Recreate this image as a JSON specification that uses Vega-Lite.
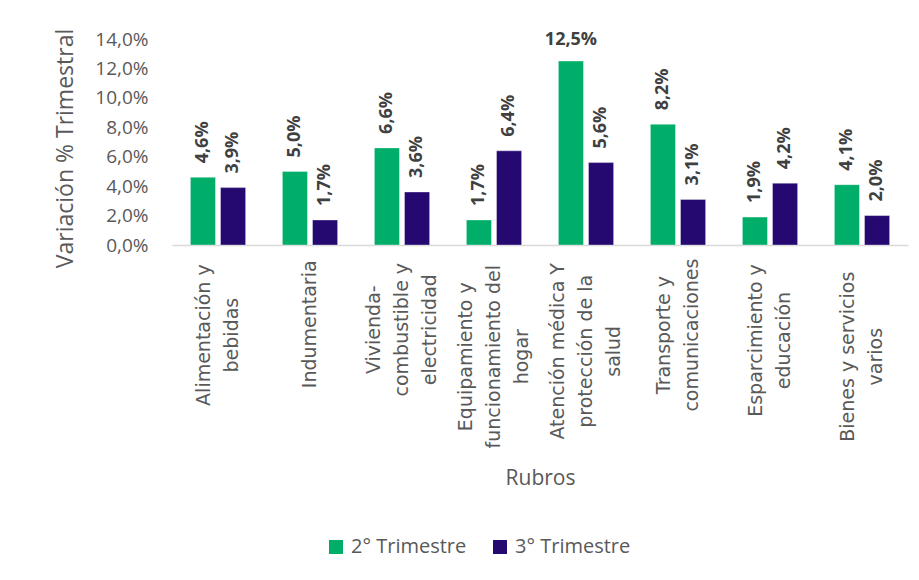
{
  "$schema": "https://vega.github.io/schema/vega-lite/v6.json",
  "width": 736,
  "height": 206,
  "autosize": {"type": "none"},
  "padding": {"left": 172, "top": 39, "right": 11, "bottom": 335},
  "background": "white",
  "config": {
    "view": {"stroke": null},
    "font": "Open Sans",
    "locale": {
      "number": {"decimal": ",", "thousands": ".", "grouping": [3], "currency": ["", " €"]}
    }
  },
  "data": {
    "values": [
      {"rubro": "Alimentación y|bebidas", "serie": "2° Trimestre", "v": 0.046},
      {"rubro": "Alimentación y|bebidas", "serie": "3° Trimestre", "v": 0.039},
      {"rubro": "Indumentaria", "serie": "2° Trimestre", "v": 0.050},
      {"rubro": "Indumentaria", "serie": "3° Trimestre", "v": 0.017},
      {"rubro": "Vivienda-|combustible y|electricidad", "serie": "2° Trimestre", "v": 0.066},
      {"rubro": "Vivienda-|combustible y|electricidad", "serie": "3° Trimestre", "v": 0.036},
      {"rubro": "Equipamiento y|funcionamiento del|hogar", "serie": "2° Trimestre", "v": 0.017},
      {"rubro": "Equipamiento y|funcionamiento del|hogar", "serie": "3° Trimestre", "v": 0.064},
      {"rubro": "Atención médica Y|protección de la|salud", "serie": "2° Trimestre", "v": 0.125},
      {"rubro": "Atención médica Y|protección de la|salud", "serie": "3° Trimestre", "v": 0.056},
      {"rubro": "Transporte y|comunicaciones", "serie": "2° Trimestre", "v": 0.082},
      {"rubro": "Transporte y|comunicaciones", "serie": "3° Trimestre", "v": 0.031},
      {"rubro": "Esparcimiento y|educación", "serie": "2° Trimestre", "v": 0.019},
      {"rubro": "Esparcimiento y|educación", "serie": "3° Trimestre", "v": 0.042},
      {"rubro": "Bienes y servicios|varios", "serie": "2° Trimestre", "v": 0.041},
      {"rubro": "Bienes y servicios|varios", "serie": "3° Trimestre", "v": 0.020}
    ]
  },
  "encoding": {
    "x": {
      "field": "rubro",
      "type": "nominal",
      "sort": null,
      "scale": {"paddingInner": 0.4, "paddingOuter": 0.2},
      "axis": {
        "title": "Rubros",
        "titleFont": "Open Sans",
        "titleFontSize": 21,
        "titleFontWeight": "normal",
        "titleColor": "#595959",
        "titleBaseline": "middle",
        "titleY": 233,
        "labelExpr": "split(datum.label, '|')",
        "labelAngle": -90,
        "labelAlign": "center",
        "labelBaseline": "middle",
        "labelFont": "DejaVu Sans",
        "labelFontSize": 19,
        "labelLineHeight": 28,
        "labelColor": "#595959",
        "labelPadding": 14,
        "labelLimit": 400,
        "labelOverlap": false,
        "ticks": false,
        "domainColor": "#D9D9D9",
        "domainWidth": 1.5,
        "encoding": {
          "labels": {
            "dy": {"value": {"expr": "-(length(split(datum.value,'|'))-1)*14"}},
            "dx": {"value": {"expr": "-0.5*10.8*max(length(split(datum.value,'|')[0]), length(split(datum.value,'|')[1] || ''), length(split(datum.value,'|')[2] || ''))"}}
          }
        }
      }
    },
    "xOffset": {
      "field": "serie",
      "type": "nominal",
      "scale": {"paddingInner": 0.167, "paddingOuter": 0}
    },
    "y": {
      "field": "v",
      "type": "quantitative",
      "scale": {"domain": [0, 0.14]},
      "axis": {
        "title": "Variación % Trimestral",
        "titleFont": "Open Sans",
        "titleFontSize": 23,
        "titleFontWeight": "normal",
        "titleColor": "#595959",
        "titleAngle": 270,
        "titleAlign": "center",
        "titleBaseline": "middle",
        "titleX": -107,
        "titleY": 109,
        "values": [0, 0.02, 0.04, 0.06, 0.08, 0.1, 0.12, 0.14],
        "format": ".1%",
        "labelFont": "Open Sans",
        "labelFontSize": 19,
        "labelColor": "#595959",
        "labelPadding": 24,
        "ticks": false,
        "domain": false,
        "grid": false
      }
    }
  },
  "layer": [
    {
      "mark": {"type": "bar", "stroke": "#FFFFFF", "strokeOpacity": 0.35, "strokeWidth": 1},
      "encoding": {
        "color": {
          "field": "serie",
          "type": "nominal",
          "scale": {"domain": ["2° Trimestre", "3° Trimestre"], "range": ["#00AE6A", "#250870"]},
          "legend": {
            "title": null,
            "orient": "none",
            "direction": "horizontal",
            "legendX": 154,
            "legendY": 498,
            "symbolType": "square",
            "symbolSize": 196,
            "symbolStrokeWidth": 0,
            "labelFont": "Open Sans",
            "labelFontSize": 20,
            "labelColor": "#595959",
            "labelOffset": 5,
            "columnPadding": 23
          }
        }
      }
    },
    {
      "transform": [{"filter": "datum.v < 0.1"}],
      "mark": {
        "type": "text",
        "angle": 270,
        "align": "left",
        "baseline": "middle",
        "dx": 14,
        "font": "Open Sans",
        "fontSize": 18,
        "fontWeight": "bold",
        "color": "#404040"
      },
      "encoding": {
        "text": {"field": "v", "type": "quantitative", "format": ".1%"}
      }
    },
    {
      "transform": [{"filter": "datum.v >= 0.1"}],
      "mark": {
        "type": "text",
        "align": "center",
        "baseline": "alphabetic",
        "dy": -16,
        "font": "Open Sans",
        "fontSize": 18,
        "fontWeight": "bold",
        "color": "#404040"
      },
      "encoding": {
        "text": {"field": "v", "type": "quantitative", "format": ".1%"}
      }
    }
  ]
}
